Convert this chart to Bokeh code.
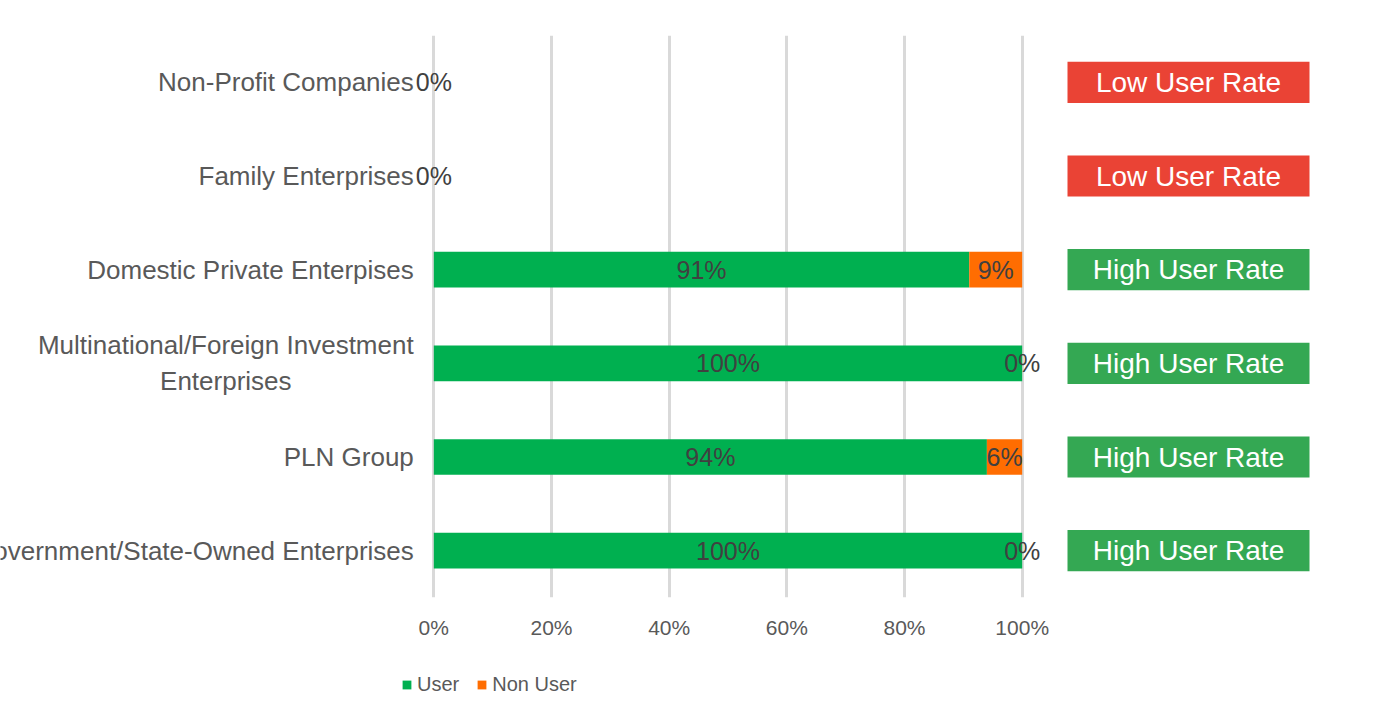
from bokeh.plotting import figure
from bokeh.layouts import column
from bokeh.models import (FactorRange, Range1d, FixedTicker, ColumnDataSource,
                          Legend, LegendItem)
from bokeh.core.properties import value
from bokeh.embed import file_html
from bokeh.resources import INLINE

# ---------------- data ----------------
categories = [
    "Government/State-Owned Enterprises",
    "PLN Group",
    "Multinational/Foreign Investment\nEnterprises",
    "Domestic Private Enterpises",
    "Family Enterprises",
    "Non-Profit Companies",
]
user = [100, 94, 100, 91, 0, 0]
non_user = [0, 6, 0, 9, 0, 0]
rate_labels = [
    "High User Rate",
    "High User Rate",
    "High User Rate",
    "High User Rate",
    "Low User Rate",
    "Low User Rate",
]
tick_values = [0, 20, 40, 60, 80, 100]
tick_labels = ["0%", "20%", "40%", "60%", "80%", "100%"]
series_names = ["User", "Non User"]

# ---------------- style ----------------
FONT = "Liberation Sans"
GREEN = "#00B050"
ORANGE = "#FF6D01"
RATE_COLORS = {"High User Rate": "#34A853", "Low User Rate": "#EA4335"}
PX_PER_UNIT = 5.884
ZERO_PX = 433.3
FIG_W = 1378
MAIN_H = 663
LEG_H = 50

src = ColumnDataSource(dict(
    cat=categories,
    user=user,
    total=[u + n for u, n in zip(user, non_user)],
    user_mid=[u / 2 for u in user],
    non_mid=[u + n / 2 for u, n in zip(user, non_user)],
    user_txt=[f"{u}%" for u in user],
    # when both segments are empty their labels coincide: show it once
    non_txt=["" if (u == 0 and n == 0) else f"{n}%" for u, n in zip(user, non_user)],
    rate=rate_labels,
    rate_color=[RATE_COLORS[r] for r in rate_labels],
))
single_src = ColumnDataSource(dict(cat=[c for c in categories if "\n" not in c]))
multi_src = ColumnDataSource(dict(cat=[c for c in categories if "\n" in c]))

x_start = -ZERO_PX / PX_PER_UNIT
x_end = (FIG_W - ZERO_PX) / PX_PER_UNIT

p = figure(width=FIG_W, height=MAIN_H,
           x_range=Range1d(x_start, x_end),
           y_range=FactorRange(factors=categories),
           output_backend="svg", toolbar_location=None,
           y_axis_location=None,
           min_border_left=0, min_border_right=0,
           min_border_top=35, min_border_bottom=66)
p.outline_line_color = None
p.background_fill_color = "white"
p.border_fill_color = "white"

p.ygrid.visible = False
p.xgrid.ticker = FixedTicker(ticks=tick_values)
p.xgrid.grid_line_color = "#D9D9D9"
p.xgrid.grid_line_width = 3

ax = p.xaxis[0]
ax.ticker = FixedTicker(ticks=tick_values)
ax.major_label_overrides = dict(zip(tick_values, tick_labels))
ax.axis_line_color = None
ax.major_tick_line_color = None
ax.minor_tick_line_color = None
ax.major_tick_out = 0
ax.major_tick_in = 0
ax.major_label_standoff = 18
ax.major_label_text_font = FONT
ax.major_label_text_font_size = "21px"
ax.major_label_text_color = "#595959"

BAR_H = 0.38
p.hbar(y="cat", left=0, right="user", height=BAR_H, fill_color=GREEN,
       line_color=None, source=src)
p.hbar(y="cat", left="user", right="total", height=BAR_H, fill_color=ORANGE,
       line_color=None, source=src)

lbl = dict(text_align="center", text_baseline="middle", text_font=value(FONT),
           text_font_size="25px", text_color="#404040")
p.text(x="user_mid", y="cat", text="user_txt", source=src, **lbl)
p.text(x="non_mid", y="cat", text="non_txt", source=src, **lbl)

# category labels (drawn inside the frame so that the long one is clipped as in the original)
cat_style = dict(text_baseline="middle", text_font=value(FONT),
                 text_font_size="26px", text_color="#595959")
p.text(x=0, y="cat", text="cat", source=single_src, x_offset=-20,
       text_align="right", **cat_style)
p.text(x=0, y="cat", text="cat", source=multi_src, x_offset=-208,
       text_align="center", text_line_height=1.2, **cat_style)

# rate boxes on the right
BOX_X = (1188 - ZERO_PX) / PX_PER_UNIT
p.rect(x=BOX_X, y="cat", width=242 / PX_PER_UNIT, height=0.44,
       fill_color="rate_color", line_color=None, source=src)
p.text(x=BOX_X, y="cat", text="rate", source=src, text_align="center",
       text_baseline="middle", text_font=value(FONT), text_font_size="28px",
       text_color="white")

# ---------------- legend strip ----------------
lg = figure(width=FIG_W, height=LEG_H, x_range=Range1d(0, 1), y_range=Range1d(0, 1),
            output_backend="svg", toolbar_location=None,
            x_axis_location=None, y_axis_location=None,
            min_border=0)
lg.outline_line_color = None
lg.grid.visible = False
# renderers kept out of view: they only provide the legend swatches
dummy = ColumnDataSource(dict(y=[5], left=[5], right=[6]))
lr_user = lg.hbar(y="y", left="left", right="right", height=1, fill_color=GREEN,
                  line_color=None, source=dummy)
lr_non = lg.hbar(y="y", left="left", right="right", height=1, fill_color=ORANGE,
                 line_color=None, source=dummy)
legend = Legend(items=[LegendItem(label=series_names[0], renderers=[lr_user]),
                       LegendItem(label=series_names[1], renderers=[lr_non])],
                orientation="horizontal", location=(401, 17),
                glyph_width=11, glyph_height=11, label_standoff=5, spacing=17,
                padding=0, margin=0, border_line_color=None,
                background_fill_alpha=0,
                label_text_font=FONT, label_text_font_size="20px",
                label_text_color="#595959")
lg.add_layout(legend, "center")

open("out.html", "w").write(file_html(column(p, lg, spacing=0), INLINE))
